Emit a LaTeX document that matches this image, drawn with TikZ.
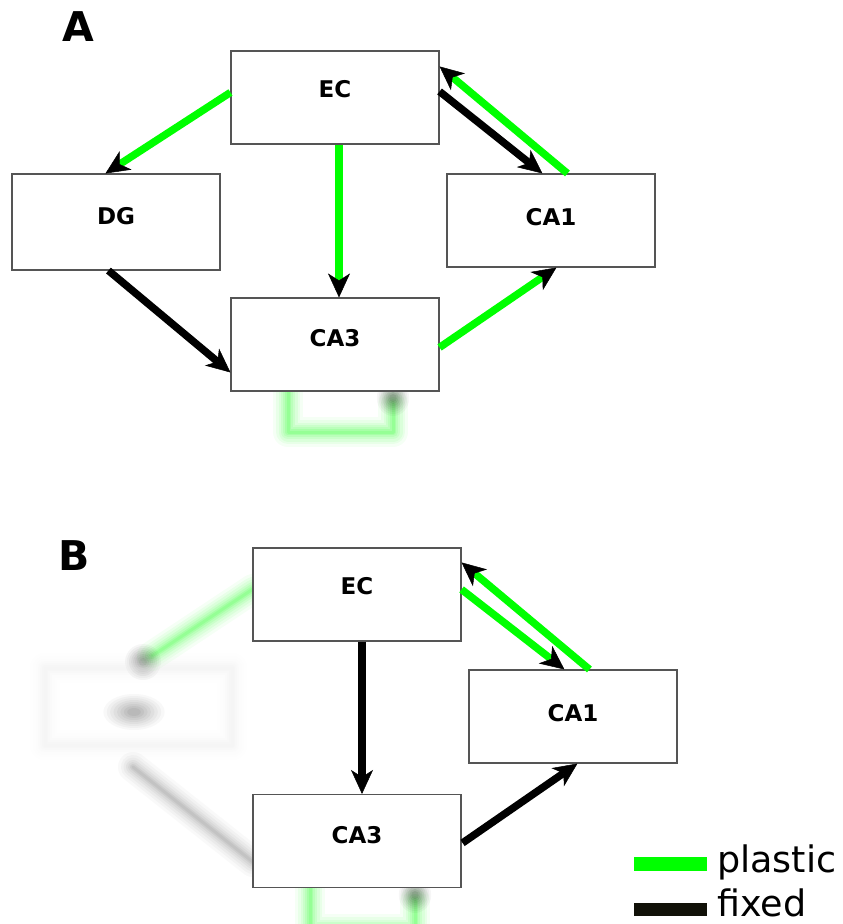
\documentclass[tikz,border=0pt]{standalone}
\usepackage{fontspec}
\setmainfont{DejaVu Sans}
\usetikzlibrary{arrows.meta,calc}
\definecolor{lime}{HTML}{00FF00}
\definecolor{boxgray}{HTML}{555555}
\definecolor{legblack}{HTML}{111108}
\newcommand\softline[2]{%
  \foreach \w/\o in {30/0.04,24/0.05,19/0.06,14/0.07,10/0.08,6/0.1,3/0.1}{%
    \draw[#1,line width=\w pt,draw opacity=\o,line cap=round,line join=round] #2;}}
\newcommand\softdot[3]{%
  \foreach \r/\o in {18/0.035,16/0.04,14/0.045,12/0.05,10/0.055,8/0.06,6/0.065,4/0.07}{%
    \fill[#1,fill opacity=\o] #2 ellipse ({\r pt*#3} and {\r pt});}}
\tikzset{
  box/.style={draw=boxgray,fill=white,line width=1.1pt,minimum width=208pt,minimum height=93pt,inner sep=0pt},
  boxtxt/.style={font=\bfseries\fontsize{23}{27}\selectfont},
  plastic/.style={draw=lime,line width=7.5pt,->},
  fixed/.style={draw=black,line width=7.5pt,->},
  panel/.style={font=\bfseries\fontsize{41}{48}\selectfont},
  legtxt/.style={font=\fontsize{36.5}{42}\selectfont,inner sep=0pt},
}
\begin{document}
\begin{tikzpicture}[x=1pt,y=-1pt,>={Stealth[length=24pt,width=22pt,inset=7pt,line width=0.5pt,color=black]}]
\useasboundingbox[fill=white] (0,0) rectangle (843,924);

% ---- blurred (faded) elements ----
% A: recurrent loop under CA3
\softline{lime}{(288,391) -- (288,432) -- (393,432) -- (393,404)}
\softdot{black}{(393,398)}{0.9}
% B: recurrent loop under CA3
\softline{lime}{(310,888) -- (310,929) -- (415,929) -- (415,901)}
\softdot{black}{(415,895)}{0.9}
% B: faded DG and its connections
\softline{lime}{(253,589) -- (152,656)}
\softdot{black}{(143,662)}{1}
\softline{black!55}{(133,767) -- (253,862)}
\softline{black!7}{(45,668) -- (232,668) -- (232,745) -- (45,745) -- cycle}
\softdot{black!75}{(134,712)}{1.7}

% ---- panel A ----
\node[panel] (labA) at (78,27) {A};
\node[box,label={[boxtxt,name=ecAt,yshift=8.5pt]center:EC}] (ecA) at (335,97.5) {};
\node[box,minimum height=96pt,label={[boxtxt,name=dgAt,yshift=6pt]center:DG}] (dgA) at (116,222) {};
\node[box,label={[boxtxt,name=ca1At,yshift=3.5pt]center:CA1}] (ca1A) at (551,220.5) {};
\node[box,label={[boxtxt,name=ca3At,yshift=6pt]center:CA3}] (ca3A) at (335,344.5) {};

\draw[plastic] ($(ecA.north west)+(0,42)$) -- ($(dgA.north west)+(94,0)$);
\draw[plastic] ($(ecA.south)+(4,0)$) -- ($(ca3A.north)+(4,0)$);
\draw[fixed] ($(dgA.south west)+(97,0)$) -- ($(ca3A.north west)+(0,75)$);
\draw[fixed] ($(ecA.north east)+(0,41)$) -- ($(ca1A.north west)+(96,0)$);
\draw[plastic] ($(ca1A.north west)+(121,0)$) -- ($(ecA.north east)+(0,16)$);
\draw[plastic] ($(ca3A.north east)+(0,50)$) -- ($(ca1A.south west)+(110,0)$);

% ---- panel B ----
\node[panel] (labB) at (74,556) {B};
\node[box,label={[boxtxt,name=ecBt,yshift=8.5pt]center:EC}] (ecB) at (357,594.5) {};
\node[box,label={[boxtxt,name=ca1Bt,yshift=3.5pt]center:CA1}] (ca1B) at (573,716.5) {};
\node[box,label={[boxtxt,name=ca3Bt,yshift=6pt]center:CA3}] (ca3B) at (357,841) {};

\draw[fixed] ($(ecB.south)+(5,0)$) -- ($(ca3B.north)+(5,0)$);
\draw[plastic] ($(ecB.north east)+(0,42)$) -- ($(ca1B.north west)+(96,0)$);
\draw[plastic] ($(ca1B.north west)+(121,0)$) -- ($(ecB.north east)+(0,15)$);
\draw[fixed] ($(ca3B.north east)+(1,49)$) -- ($(ca1B.south west)+(109,0)$);

% ---- legend ----
\node[legtxt,anchor=base west] (lgP) at (717,872) {plastic};
\node[legtxt,anchor=base west] (lgF) at (717,916) {fixed};
\fill[lime] (634,857) rectangle (707,871);
\fill[legblack] (634,903) rectangle (707,916);
\end{tikzpicture}
\end{document}
